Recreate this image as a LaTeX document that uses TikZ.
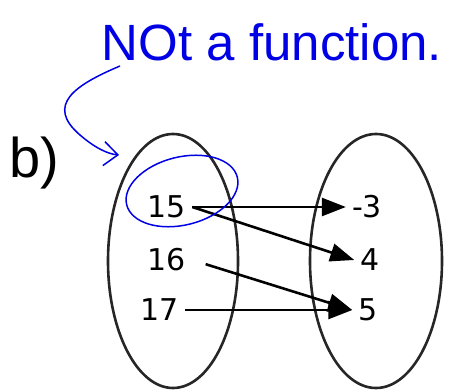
\documentclass[tikz,border=0pt]{standalone}
\usepackage{fontspec}
\usepackage{tikz}
\usetikzlibrary{arrows.meta}
\newfontfamily\numfont{DejaVu Sans}
\newfontfamily\labfont{Liberation Sans}

\tikzset{
  setring/.style={draw=black!85, line width=2.6pt},
  elem/.style={font=\numfont\fontsize{30}{32}\selectfont, inner sep=6pt},
  maparrow/.style={line width=2.6pt, -{Triangle[length=24pt, width=18pt]}},
  ink/.style={draw=blue!90!black, line width=1.5pt}
}

\begin{document}
\begin{tikzpicture}[x=1pt, y=-1pt]
    \useasboundingbox (0,0) rectangle (449,390);

    % Domain and range
    \draw[setring] (173,261) ellipse [x radius=65pt, y radius=127pt];
    \draw[setring] (376,261) ellipse [x radius=66pt, y radius=127pt];

    % Part label
    \node[font=\labfont\fontsize{56}{60}\selectfont] (part) at (34,163) {b)};

    % Elements of the domain
    \node[elem] (d15) at (167,207) {15};
    \node[elem] (d16) at (167,260) {16};
    \node[elem] (d17) at (160,310) {17};

    % Elements of the range
    \node[elem] (rm3) at (367,207) {-3};
    \node[elem] (r4) at (370,260) {4};
    \node[elem] (r5) at (368,310) {5};

    % Mapping
    \draw[maparrow] (d15.east) -- (rm3.west);
    \draw[maparrow] (d15.east) -- (r4.west);
    \draw[maparrow, shorten <=14pt] (d16.east) -- (r5.west);
    \draw[maparrow] (d17.east) -- (r5.west);

    % Hand notes
    \node[text=blue!90!black, font=\labfont\fontsize{51}{54}\selectfont] (note) at (272,42) {NOt a function.};
    \draw[ink, rotate around={14:(182,191)}] (182,191) ellipse [x radius=57pt, y radius=34pt];
    \coordinate (tip) at (119,155);
    \draw[ink, -{Straight Barb[length=14pt, width=24pt]}]
      (120,66) .. controls (75,85) and (45,105) .. (80,135)
      .. controls (95,148) and (108,154) .. (tip);
  \end{tikzpicture}
\end{document}
